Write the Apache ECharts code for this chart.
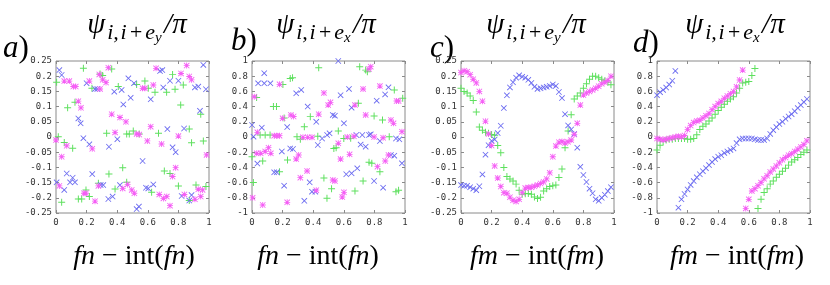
<!DOCTYPE html>
<html><head><meta charset="utf-8">
<script src="https://cdn.jsdelivr.net/npm/echarts@6/dist/echarts.min.js"></script>
<style>html,body{margin:0;padding:0;background:#fff}#c{width:830px;height:285px}</style>
</head><body><div id="c"></div>
<script>
// ---------- data ----------
const xTicks = [0, 0.2, 0.4, 0.6, 0.8, 1];

// panel a : psi_{i,i+e_y}/pi  vs  fn - int(fn)
const aGreen = [[0.179,0.226],[0.004,0.180],[0.288,0.207],[0.305,0.202],[0.364,0.224],[0.235,0.160],[0.407,0.166],[0.076,0.096],[0.124,0.114],[0.331,0.012],[0.462,0.010],[0.479,0.010],[0.505,0.020],[0.015,0.001],[0.054,-0.018],[0.109,-0.037],[0.346,-0.122],[0.436,-0.101],[0.196,-0.174],[0.146,-0.204],[0.168,-0.204],[0.218,-0.196],[0.277,-0.152],[0.386,-0.171],[0.462,-0.149],[0.037,-0.215],
  [0.762,0.206],[0.527,0.173],[0.581,0.184],[0.603,0.160],[0.647,0.147],[0.723,0.147],[0.778,0.157],[0.832,0.171],[0.815,0.105],[0.946,0.075],[0.871,0.026],[0.544,0.010],[0.670,0.012],[0.963,-0.013],[0.886,-0.019],[0.708,-0.112],[0.745,-0.120],[0.625,-0.182],[0.800,-0.161],[0.871,-0.209],[0.915,-0.158],[0.980,-0.163]];
const aBlue = [[0.022,0.220],[0.037,0.204],[0.200,0.177],[0.255,0.158],[0.270,0.158],[0.381,0.149],[0.429,0.155],[0.473,0.193],[0.488,0.129],[0.440,0.107],[0.146,0.061],[0.161,0.045],[0.179,-0.004],[0.218,-0.024],[0.401,-0.007],[0.346,-0.032],[0.004,-0.149],[0.070,-0.120],[0.109,-0.134],[0.092,-0.149],[0.124,-0.149],[0.054,-0.174],[0.237,-0.122],[0.292,-0.158],[0.309,-0.158],[0.342,-0.204],[0.370,-0.196],[0.418,-0.158],
  [0.680,0.217],[0.695,0.220],[0.963,0.237],[0.510,0.177],[0.619,0.124],[0.701,0.163],[0.745,0.185],[0.800,0.185],[0.908,0.163],[0.930,0.166],[0.980,0.157],[0.941,0.086],[0.728,0.026],[0.837,0.028],[0.762,-0.034],[0.782,-0.050],[0.566,-0.079],[0.588,-0.167],[0.603,-0.169],[0.636,-0.156],[0.527,-0.237],[0.542,-0.229],[0.821,-0.194],[0.871,-0.209],[0.886,-0.191]];
const aMagenta = [[0.342,0.228],[0.283,0.206],[0.054,0.184],[0.087,0.184],[0.218,0.184],[0.113,0.166],[0.129,0.166],[0.288,0.158],[0.305,0.188],[0.327,0.179],[0.146,0.118],[0.163,0.096],[0.364,0.075],[0.418,0.064],[0.457,0.050],[0.386,0.015],[0.000,-0.010],[0.070,-0.029],[0.037,-0.065],[0.237,-0.039],[0.022,-0.161],[0.183,-0.185],[0.196,-0.185],[0.255,-0.211],[0.277,-0.161],[0.436,-0.169],[0.468,-0.156],[0.495,-0.174],[0.512,-0.185],
  [0.654,0.226],[0.817,0.209],[0.854,0.235],[0.566,0.160],[0.581,0.160],[0.636,0.171],[0.871,0.199],[0.886,0.188],[0.619,0.034],[0.527,0.010],[0.544,0.008],[0.800,0.003],[0.597,-0.013],[0.690,-0.023],[0.984,-0.059],[0.782,-0.101],[0.762,-0.130],[0.675,-0.189],[0.702,-0.202],[0.724,-0.196],[0.745,-0.226],[0.839,-0.189],[0.908,-0.205],[0.930,-0.172],[0.946,-0.196],[0.958,-0.174]];

// panel b : psi_{i,i+e_x}/pi  vs  fn - int(fn)
const bGreen = [[0.436,0.912],[0.202,0.69],[0.25,0.77],[0.265,0.78],[0.03,0.52],[0.14,0.40],[0.16,0.40],[0.21,0.25],[0.053,0.026],[0.086,0.026],[0.118,0.026],[0.07,-0.316],[0.18,-0.456],[0.009,-0.6],[0.0,-0.26],[0.232,-0.303],[0.49,-0.807],[0.294,0.004],[0.316,-0.03],[0.342,0.136],[0.381,0.268],[0.704,0.925],[0.743,0.88],[0.754,0.86],[0.93,0.618],[0.985,0.51],[0.695,0.443],[0.798,0.276],[0.853,0.224],[0.564,0.079],[0.645,-0.018],[0.897,0.004],[0.535,-0.15],[0.55,-0.14],[0.765,-0.333],[0.783,-0.346],[0.836,-0.456],[0.726,-0.579],[0.673,-0.71],[0.941,-0.72],[0.958,-0.70],[0.47,-0.54],[0.52,-0.68],[0.43,0.01],[0.60,-0.02]];
const bBlue = [[0.08,0.84],[0.04,0.706],[0.08,0.706],[0.12,0.706],[0.289,0.575],[0.322,0.62],[0.364,0.40],[0.064,0.123],[0.0,0.158],[0.01,0.004],[0.195,-0.19],[0.035,-0.35],[0.145,-0.465],[0.162,-0.465],[0.21,-0.64],[0.342,-0.84],[0.25,-0.15],[0.268,-0.158],[0.377,-0.597],[0.392,-0.72],[0.414,-0.72],[0.42,0.2],[0.43,-0.105],[0.458,-0.02],[0.23,0.13],[0.564,1.0],[0.634,0.632],[0.892,0.654],[0.87,0.56],[0.579,0.55],[0.651,0.386],[0.815,0.478],[0.528,0.29],[0.542,0.28],[0.601,0.18],[0.507,0.048],[0.491,0.026],[0.682,0.026],[0.721,0.026],[0.765,0.026],[0.776,0.035],[0.836,-0.053],[0.941,-0.02],[0.963,-0.03],[0.71,-0.1],[0.743,-0.127],[0.908,-0.237],[0.93,-0.246],[0.98,-0.346],[0.688,-0.412],[0.651,-0.478],[0.616,-0.49],[0.798,-0.579],[0.857,-0.667]];
const bMagenta = [[0.18,0.693],[0.015,0.53],[0.254,0.29],[0.272,0.27],[0.2,0.246],[0.035,0.061],[0.145,0.018],[0.162,0.018],[0.18,0.018],[0.031,-0.215],[0.057,-0.215],[0.086,-0.19],[0.108,-0.14],[0.123,-0.215],[0.004,-0.80],[0.07,-0.895],[0.23,-0.86],[0.305,-0.237],[0.289,-0.29],[0.36,-0.447],[0.316,-0.535],[0.42,-0.70],[0.333,-0.004],[0.364,-0.004],[0.392,-0.004],[0.436,0.3],[0.765,0.895],[0.776,0.925],[0.726,0.632],[0.836,0.67],[0.673,0.42],[0.498,0.42],[0.513,0.456],[0.743,0.29],[0.908,0.224],[0.925,0.18],[0.945,0.474],[0.958,0.474],[0.623,0.0],[0.666,0.01],[0.798,0.0],[0.857,-0.01],[0.98,0.07],[0.564,-0.083],[0.638,-0.228],[0.579,-0.29],[0.892,-0.237],[0.871,-0.316],[0.82,-0.39],[0.601,-0.728],[0.528,-0.566],[0.542,-0.579],[0.47,0.58],[0.59,-0.79]];

// panels c, d : sampled on a regular grid of fm - int(fm)
const xGrid = [0,0.02,0.04,0.06,0.08,0.1,0.12,0.14,0.16,0.18,0.2,0.22,0.24,0.26,0.28,0.3,0.32,0.34,0.36,0.38,0.4,0.42,0.44,0.46,0.48,0.5,0.52,0.54,0.56,0.58,0.6,0.62,0.64,0.66,0.68,0.7,0.72,0.74,0.76,0.78,0.8,0.82,0.84,0.86,0.88,0.9,0.92,0.94,0.96,0.98];
const cGreen = [0.160,0.150,0.145,0.135,0.120,0.082,0.033,0.022,0.016,0.012,0.008,0.006,-0.028,-0.052,-0.100,-0.130,-0.138,-0.145,-0.155,-0.175,-0.188,-0.187,-0.186,-0.188,-0.197,-0.202,-0.198,-0.178,-0.170,-0.163,-0.160,-0.158,-0.133,-0.105,-0.035,0.020,0.073,0.125,0.135,0.145,0.160,0.175,0.190,0.200,0.200,0.195,0.190,0.185,0.180,0.172];
const cBlue = [-0.158,-0.160,-0.160,-0.165,-0.170,-0.175,-0.162,-0.123,-0.058,-0.027,-0.013,-0.008,0.013,0.037,0.095,0.137,0.163,0.180,0.195,0.203,0.198,0.195,0.188,0.178,0.165,0.158,0.160,0.163,0.165,0.168,0.173,0.168,0.148,0.128,0.075,0.038,0.025,0.010,-0.035,-0.098,-0.125,-0.148,-0.170,-0.185,-0.205,-0.210,-0.200,-0.190,-0.178,-0.165];
const cMagenta = [0.212,0.218,0.215,0.205,0.190,0.178,0.150,0.118,0.052,0.010,-0.028,-0.095,-0.135,-0.163,-0.183,-0.185,-0.198,-0.208,-0.212,-0.205,-0.183,-0.168,-0.166,-0.165,-0.162,-0.158,-0.153,-0.148,-0.138,-0.118,-0.065,-0.030,-0.017,-0.015,-0.020,-0.016,-0.010,0.008,0.045,0.105,0.138,0.145,0.150,0.155,0.160,0.167,0.175,0.180,0.186,0.200];
const dGreen = [-0.17,-0.11,-0.06,-0.04,-0.03,-0.03,-0.02,-0.02,-0.02,-0.02,-0.03,-0.03,-0.02,0.03,0.10,0.14,0.17,0.21,0.25,0.30,0.35,0.39,0.43,0.47,0.50,0.53,0.58,0.64,0.71,0.72,0.73,0.81,0.90,-0.94,-0.82,-0.73,-0.68,-0.62,-0.58,-0.53,-0.49,-0.45,-0.41,-0.37,-0.33,-0.30,-0.27,-0.23,-0.20,-0.17];
const dBlue = [0.55,0.59,0.62,0.65,0.69,0.74,0.87,-0.93,-0.82,-0.75,-0.69,-0.63,-0.58,-0.53,-0.49,-0.45,-0.41,-0.37,-0.33,-0.29,-0.26,-0.24,-0.21,-0.19,-0.17,-0.15,-0.08,-0.03,-0.02,-0.02,-0.02,-0.02,-0.03,-0.04,-0.04,-0.04,-0.02,0.04,0.09,0.13,0.17,0.20,0.24,0.27,0.30,0.34,0.38,0.42,0.46,0.50];
const dMagenta = [-0.02,-0.03,-0.04,-0.03,-0.02,-0.01,0.00,0.01,0.00,0.02,0.10,0.15,0.19,0.21,0.22,0.25,0.28,0.31,0.36,0.40,0.44,0.47,0.51,0.54,0.57,0.60,0.66,0.75,0.88,-0.94,-0.82,-0.71,-0.68,-0.64,-0.60,-0.55,-0.51,-0.46,-0.42,-0.38,-0.34,-0.30,-0.27,-0.24,-0.22,-0.19,-0.16,-0.13,-0.10,-0.05];

const panelLetters = ['a', 'b', 'c', 'd'];
const titleSub = ['y', 'x', 'y', 'x'];
const xLabelVar = ['n', 'n', 'm', 'm'];

// ---------- build ----------
const zip = ys => xGrid.map((x, i) => [x, ys[i]]);
const panelData = [
  [aGreen, aBlue, aMagenta],
  [bGreen, bBlue, bMagenta],
  [zip(cGreen), zip(cBlue), zip(cMagenta)],
  [zip(dGreen), zip(dBlue), zip(dMagenta)]
];
const yRanges = [[-0.25, 0.25, 0.05], [-1, 1, 0.2], [-0.25, 0.25, 0.05], [-1, 1, 0.2]];

const L = { lefts: [56, 252, 461, 657], top: 61, w: 153, h: 152,
  titleX: [137, 326, 536, 735], titleY: 47,
  letterX: [3, 231, 430, 633], letterY: [64, 57, 64, 59],
  xlabX: [134, 318, 537, 737], xlabY: 271 };

const PLUS = 'path://M0,4.3H10V5.7H0Z M4.3,0H5.7V10H4.3Z';
const CROSS = 'path://M0,1L1,0L10,9L9,10Z M9,0L10,1L1,10L0,9Z';
const STAR = 'path://M0,4.3H10V5.7H0Z M4.3,0H5.7V10H4.3Z M0,1L1,0L10,9L9,10Z M9,0L10,1L1,10L0,9Z';
const symbols = [PLUS, CROSS, STAR];
const colors = ['#5ee05e', '#6a6af0', '#f55ff5'];

const grid = [], xAxis = [], yAxis = [], series = [], graphic = [];
const frameColor = '#8a8a8a';
const labelStyle = { fontFamily: 'DejaVu Sans Mono', fontSize: 9, color: '#333' };
const HS = '\u200A';

for (let p = 0; p < 4; p++) {
  grid.push({ left: L.lefts[p], top: L.top, width: L.w, height: L.h, show: true,
    borderColor: frameColor, borderWidth: 1, backgroundColor: '#fff' });
  const [ymin, ymax, yint] = yRanges[p];
  const tick = { show: true, inside: true, length: 3, lineStyle: { color: frameColor } };
  const xBase = { type: 'value', gridIndex: p, min: 0, max: 1, interval: 0.2,
    splitLine: { show: false }, axisLine: { show: false, onZero: false }, axisTick: tick };
  const yBase = { type: 'value', gridIndex: p, min: ymin, max: ymax, interval: yint,
    splitLine: { show: false }, axisLine: { show: false, onZero: false }, axisTick: tick };
  xAxis.push(Object.assign({}, xBase, { position: 'bottom',
    axisLabel: Object.assign({ margin: 5, formatter: v => String(Math.round(v * 10) / 10) }, labelStyle) }));
  xAxis.push(Object.assign({}, xBase, { position: 'top', axisLabel: { show: false } }));
  yAxis.push(Object.assign({}, yBase, { position: 'left',
    axisLabel: Object.assign({ margin: 4, formatter: v => String(Math.round(v * 100) / 100) }, labelStyle) }));
  yAxis.push(Object.assign({}, yBase, { position: 'right', axisLabel: { show: false } }));

  for (let s = 0; s < 3; s++) {
    series.push({ type: 'scatter', xAxisIndex: 2 * p, yAxisIndex: 2 * p,
      data: panelData[p][s], symbol: symbols[s], symbolSize: s === 0 ? 7 : 6,
      itemStyle: { color: colors[s], opacity: 1 }, silent: true, z: 2 + s });
  }

  // title psi_{i,i+e_?}/pi
  graphic.push({ type: 'text', x: L.titleX[p], y: L.titleY, silent: true,
    style: { text: '{m|ψ}{s|' + HS + 'i,' + HS + 'i' + HS + '+' + HS + 'e}{ss|' + titleSub[p] + '}{m|' + HS + '/π}',
      align: 'center', verticalAlign: 'bottom', textAlign: 'center', textVerticalAlign: 'bottom',
      fill: '#000', font: 'italic 27px "Liberation Serif"',
      rich: {
        m: { font: 'italic 29px "Liberation Serif"', fill: '#000', lineHeight: 29, padding: [0, 0, 7, 0], verticalAlign: 'bottom' },
        s: { font: 'italic 22px "Liberation Serif"', fill: '#000', lineHeight: 22, padding: [0, 0, 3, 0], verticalAlign: 'bottom' },
        ss: { font: 'italic 15px "Liberation Serif"', fill: '#000', lineHeight: 15, padding: [0, 0, 1, 0], verticalAlign: 'bottom' }
      } } });
  // panel letter
  graphic.push({ type: 'text', x: L.letterX[p], y: L.letterY[p], silent: true,
    style: { text: '{i|' + panelLetters[p] + '}{r|)}', align: 'left', verticalAlign: 'bottom',
      textAlign: 'left', textVerticalAlign: 'bottom', fill: '#000', font: '30px "Liberation Serif"',
      rich: {
        i: { font: 'italic 31px "Liberation Serif"', fill: '#000', lineHeight: 31, verticalAlign: 'bottom' },
        r: { font: '31px "Liberation Serif"', fill: '#000', lineHeight: 31, verticalAlign: 'bottom' }
      } } });
  // x label
  const v = xLabelVar[p];
  graphic.push({ type: 'text', x: L.xlabX[p], y: L.xlabY, silent: true,
    style: { text: '{i|f' + v + '}{r| − int(}{i|f' + v + '}{r|)}', align: 'center', verticalAlign: 'bottom',
      textAlign: 'center', textVerticalAlign: 'bottom', fill: '#000', font: '28px "Liberation Serif"',
      rich: {
        i: { font: 'italic 28px "Liberation Serif"', fill: '#000', lineHeight: 28, verticalAlign: 'bottom' },
        r: { font: '28px "Liberation Serif"', fill: '#000', lineHeight: 28, verticalAlign: 'bottom' }
      } } });
}

const chart = echarts.init(document.getElementById('c'), null, { renderer: 'canvas' });
chart.setOption({ animation: false, backgroundColor: '#fff', grid, xAxis, yAxis, series, graphic });
</script></body></html>
